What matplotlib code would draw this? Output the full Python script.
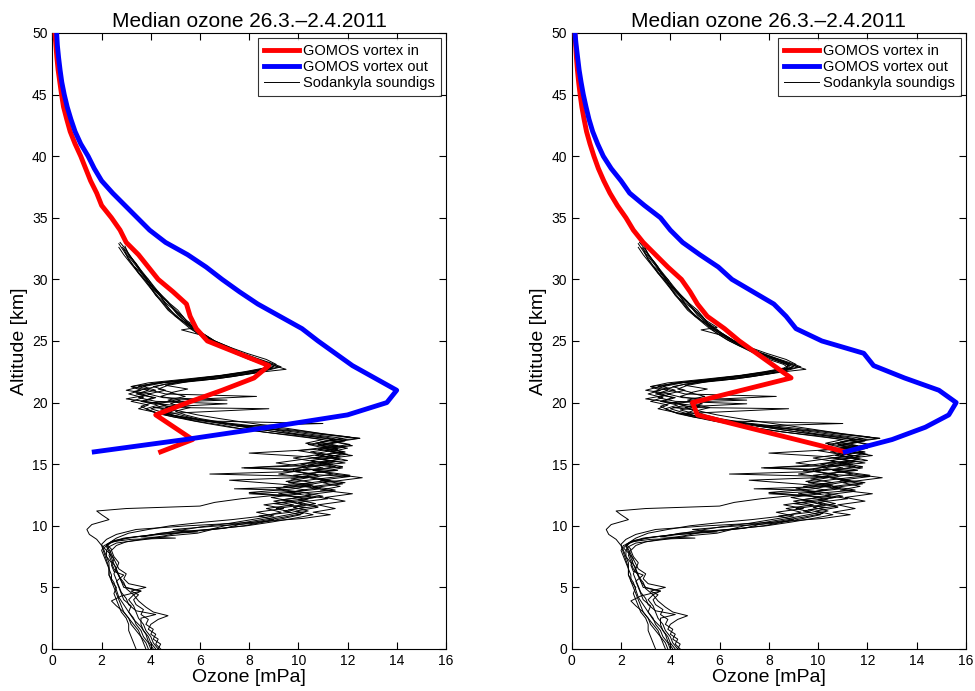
import numpy as np
import matplotlib
matplotlib.use('Agg')
from matplotlib import pyplot as plt

plt.rcParams['font.family'] = ['Liberation Sans', 'DejaVu Sans']

# GOMOS medians, left panel
alt_in_L = [16, 17, 18, 19, 20, 21, 22, 23, 24, 25, 26, 27, 28, 29, 30, 31, 32, 33, 34, 35, 36, 37, 38,
            39, 40, 41, 42, 43, 44, 45, 46, 47, 48, 49, 50]
o3_in_L = [4.4, 5.7, 4.95, 4.2, 5.5, 6.9, 8.2, 8.8, 7.55, 6.3, 5.85, 5.6, 5.45, 4.9, 4.3, 3.9, 3.5, 3.0, 2.75, 2.4, 2.0, 1.8, 1.55,
           1.35, 1.15, 0.92, 0.72, 0.58, 0.45, 0.37, 0.3, 0.23, 0.18, 0.14, 0.1]
alt_out_L = [16, 17, 18, 19, 20, 21, 22, 23, 24, 25, 26, 27, 28, 29, 30, 31, 32, 33, 34, 35, 36, 37, 38,
             39, 40, 41, 42, 43, 44, 45, 46, 47, 48, 49, 50]
o3_out_L = [1.7, 5.4, 8.8, 12.0, 13.6, 14.0, 13.1, 12.2, 11.5, 10.8, 10.15, 9.25, 8.35, 7.6, 6.9, 6.25, 5.5, 4.6, 3.95, 3.45, 2.95, 2.45, 2.0,
            1.7, 1.45, 1.15, 0.92, 0.75, 0.6, 0.48, 0.38, 0.31, 0.25, 0.2, 0.17]

# GOMOS medians, right panel
alt_in_R = [16, 17, 18, 19, 20, 21, 22, 23, 24, 25, 26, 27, 28, 29, 30, 31, 32, 33, 34, 35, 36, 37, 38,
            39, 40, 41, 42, 43, 44, 45, 46, 47, 48, 49, 50]
o3_in_R = [11.1, 9.1, 7.1, 5.1, 4.9, 6.9, 8.9, 8.2, 7.5, 6.8, 6.2, 5.5, 5.1, 4.8, 4.45, 3.9, 3.4, 2.9, 2.5, 2.2, 1.85, 1.55, 1.3,
           1.08, 0.9, 0.74, 0.6, 0.5, 0.41, 0.34, 0.28, 0.23, 0.19, 0.16, 0.13]
alt_out_R = [16, 17, 18, 19, 20, 21, 22, 23, 24, 25, 26, 27, 28, 29, 30, 31, 32, 33, 34, 35, 36, 37, 38,
             39, 40, 41, 42, 43, 44, 45, 46, 47, 48, 49, 50]
o3_out_R = [11.1, 13.0, 14.35, 15.3, 15.6, 14.9, 13.5, 12.25, 11.85, 10.15, 9.1, 8.7, 8.2, 7.35, 6.5, 5.95, 5.2, 4.5, 4.0, 3.6, 2.95, 2.35, 2.0,
            1.6, 1.28, 1.05, 0.85, 0.7, 0.58, 0.47, 0.38, 0.3, 0.24, 0.18, 0.13]

# Sodankyla soundings, (altitude km, ozone mPa)
sond1 = [(0.0,4.1),(0.6,3.9),(1.2,3.8),(1.8,3.6),(2.4,3.3),(3.0,3.1),(3.6,2.9),(4.2,2.7),(4.8,2.6),(5.4,2.5),
         (6.0,2.3),(6.6,2.3),(7.2,2.2),(7.8,2.1),(8.4,2.0),(8.9,1.8),(9.3,1.5),(9.7,1.4),(10.1,1.6),(10.5,2.3),
         (10.9,2.0),(11.2,1.8),(11.4,3.0),(11.6,6.0),(11.9,6.6),(12.2,7.7),(12.5,9.2),(12.9,11.5),(13.2,10.6),(13.5,11.9),
         (13.8,10.8),(14.1,12.1),(14.4,11.0),(14.7,11.8),(15.0,10.4),(15.3,12.0),(15.6,11.3),(15.9,11.9),(16.2,10.8),(16.5,12.2),
         (16.8,11.5),(17.1,12.5),(17.4,11.2),(17.7,10.1),(18.0,8.7),(18.3,7.3),(18.6,6.0),(18.9,5.1),(19.2,4.5),(19.5,4.0),
         (19.8,4.6),(20.1,3.7),(20.4,4.2),(20.7,3.4),(21.0,3.9),(21.3,3.2),(21.6,4.4),(21.9,5.7),(22.2,6.9),(22.5,8.0),
         (22.8,8.9),(23.1,9.1),(23.5,8.7),(24.0,7.9),(24.5,7.2),(25.0,6.6),(25.5,6.2),(26.0,5.8),(26.5,5.5),(27.0,5.3),
         (27.5,5.1),(28.0,4.8),(28.5,4.5),(29.0,4.3),(29.5,4.0),(30.0,3.8),(30.5,3.6),(31.0,3.5),(31.5,3.3),(32.0,3.1),(32.7,2.95)]
sond2 = [(0.0,4.3),(0.4,4.4),(0.8,4.1),(1.2,4.2),(1.6,3.9),(2.0,4.0),(2.4,4.3),(2.7,4.7),(3.0,4.1),(3.4,3.8),
         (3.9,3.5),(4.4,3.3),(4.9,3.0),(5.4,2.9),(5.9,2.7),(6.4,2.6),(6.9,2.5),(7.4,2.4),(7.9,2.3),(8.3,2.2),
         (8.7,2.4),(8.9,3.2),(9.0,5.0),(9.1,3.6),(9.4,4.4),(9.7,6.3),(10.0,7.9),(10.3,8.9),(10.6,9.8),(10.9,10.6),
         (11.2,9.9),(11.5,10.8),(11.8,10.1),(12.1,9.3),(12.4,10.5),(12.7,9.6),(13.0,10.9),(13.3,9.8),(13.7,7.2),(13.9,9.9),
         (14.2,10.7),(14.5,9.4),(14.8,10.3),(15.1,9.1),(15.4,10.2),(15.7,11.4),(16.0,10.5),(16.3,11.6),(16.6,10.8),(16.9,11.9),
         (17.2,11.1),(17.5,9.8),(17.8,9.0),(18.1,7.5),(18.3,11.0),(18.5,6.4),(18.8,5.3),(19.1,4.6),(19.4,5.0),(19.6,4.1),
         (19.9,7.1),(20.1,4.2),(20.4,3.5),(20.7,4.0),(21.0,3.0),(21.3,3.6),(21.6,4.3),(21.9,6.6),(22.2,7.6),(22.5,8.6),
         (22.7,9.5),(23.0,9.0),(23.4,8.5),(23.8,7.9),(24.3,7.3),(24.8,6.7),(25.3,6.3),(25.9,5.8),(26.4,5.5),(27.0,5.2),
         (27.6,4.9),(28.2,4.7),(28.8,4.4),(29.4,4.1),(30.0,3.9),(30.6,3.6),(31.2,3.4),(31.8,3.2),(32.4,3.0),(33.0,2.75)]
sond3 = [(0.0,3.9),(0.5,3.8),(1.0,3.6),(1.5,3.5),(2.0,3.3),(2.5,3.1),(3.0,2.9),(3.5,2.6),(3.9,2.4),(4.3,2.8),
         (4.7,3.6),(5.0,3.0),(5.5,2.8),(6.0,2.7),(6.5,2.5),(7.0,2.4),(7.5,2.2),(8.0,2.1),(8.5,2.0),(8.9,2.2),
         (9.3,2.6),(9.7,3.4),(10.0,5.5),(10.3,8.3),(10.6,10.2),(10.9,11.3),(11.1,10.6),(11.4,11.5),(11.7,10.8),(12.0,11.9),
         (12.3,11.1),(12.6,12.2),(12.9,10.9),(13.2,11.7),(13.5,11.0),(13.9,12.6),(14.2,11.4),(14.5,10.6),(14.8,11.8),(15.1,10.9),
         (15.4,11.6),(15.7,10.7),(16.0,11.8),(16.3,11.0),(16.6,12.1),(16.9,11.3),(17.1,12.5),(17.4,11.0),(17.7,9.8),(17.9,8.6),
         (18.2,7.4),(18.5,6.1),(18.8,5.0),(19.1,4.3),(19.4,3.9),(19.7,3.6),(20.0,4.1),(20.3,3.0),(20.6,3.8),(20.9,3.3),
         (21.2,4.0),(21.5,4.6),(21.8,6.1),(22.1,7.3),(22.4,8.2),(22.8,8.9),(23.1,8.7),(23.5,8.2),(24.0,7.6),(24.5,7.0),
         (25.0,6.5),(25.5,6.1),(26.0,5.7),(26.5,5.4),(27.0,5.0),(27.5,4.8),(28.0,4.6),(28.6,4.4),(29.2,4.1),(29.8,3.9),
         (30.4,3.7),(31.0,3.35)]
sond4 = [(0.0,3.4),(0.5,3.3),(1.0,3.2),(1.5,3.1),(2.0,3.1),(2.5,3.0),(3.0,2.8),(3.5,2.7),(4.0,2.6),(4.5,2.5),
         (5.0,2.6),(5.5,2.4),(6.0,2.4),(6.5,2.3),(7.0,2.3),(7.5,2.2),(8.0,2.2),(8.3,2.3),(8.6,2.6),(8.9,3.8),
         (9.2,4.8),(9.4,5.9),(9.7,6.5),(10.0,7.8),(10.3,8.6),(10.6,9.4),(10.9,10.1),(11.2,9.4),(11.5,10.3),(11.8,9.0),
         (12.1,10.4),(12.4,9.7),(12.7,8.0),(13.0,9.8),(13.3,10.6),(13.6,9.5),(13.9,10.4),(14.2,9.2),(14.5,10.1),(14.7,7.8),
         (14.9,9.6),(15.2,10.7),(15.5,9.8),(15.8,10.9),(16.1,10.0),(16.4,11.2),(16.7,10.3),(17.0,11.0),(17.3,10.0),(17.6,8.6),
         (17.9,7.6),(18.2,6.8),(18.5,5.8),(18.8,5.2),(19.1,4.5),(19.5,8.8),(19.6,4.9),(19.9,4.3),(20.2,5.0),(20.5,8.3),
         (20.7,4.6),(21.0,4.0),(21.3,3.5),(21.6,4.2),(21.9,5.6),(22.2,6.9),(22.5,7.9),(22.8,8.7),(23.1,8.8),(23.4,8.4),
         (23.9,7.8),(24.4,7.1),(24.9,6.6),(25.4,6.2),(25.9,5.25),(26.1,5.9),(26.6,5.5),(27.1,5.2),(27.7,4.9),(28.3,4.6),
         (28.9,4.3),(29.5,4.0),(30.1,3.8),(30.7,3.6),(31.3,3.4),(31.9,3.15),(32.5,2.9)]
sond5 = [(0.0,4.4),(0.4,4.2),(0.8,4.3),(1.2,4.0),(1.6,4.1),(2.0,3.8),(2.4,3.9),(2.8,3.6),(3.2,3.7),(3.6,3.4),
         (4.0,3.3),(4.4,3.5),(4.7,3.2),(5.0,3.8),(5.3,3.1),(5.7,2.9),(6.1,3.0),(6.5,2.7),(6.9,2.6),(7.3,2.5),
         (7.7,2.4),(8.1,2.3),(8.4,2.2),(8.7,2.4),(9.0,2.9),(9.3,4.2),(9.5,5.9),(9.7,4.9),(10.0,6.8),(10.2,8.2),
         (10.5,9.0),(10.8,8.4),(11.1,9.7),(11.4,9.1),(11.7,10.2),(12.0,9.5),(12.3,10.7),(12.6,8.0),(12.8,9.9),(13.1,10.8),
         (13.4,10.1),(13.7,11.3),(14.0,10.4),(14.2,6.4),(14.4,9.8),(14.6,9.8),(14.9,10.7),(15.2,11.5),(15.5,10.6),(15.8,12.0),
         (16.1,11.1),(16.4,11.9),(16.7,10.7),(17.0,11.4),(17.3,10.3),(17.6,9.2),(17.9,8.2),(18.2,7.1),(18.5,6.3),(18.8,5.6),
         (19.1,5.0),(19.4,4.4),(19.7,5.2),(20.0,4.0),(20.2,7.1),(20.4,4.5),(20.7,3.9),(21.0,4.6),(21.3,4.1),(21.6,4.9),
         (21.9,6.3),(22.2,7.5),(22.5,8.4),(22.9,9.2),(23.2,8.8),(23.6,8.2),(24.1,7.5),(24.6,6.9),(25.1,6.4),(25.6,6.0),
         (26.1,5.7),(26.6,5.3),(27.1,5.0),(27.6,4.7),(28.1,4.5),(28.7,4.2),(29.3,4.0),(29.9,3.8),(30.5,3.5),(31.1,3.3),
         (31.7,3.1),(32.3,2.9),(32.9,2.7)]
sond6 = [(0.0,4.0),(0.5,3.9),(1.0,3.7),(1.5,3.6),(2.0,3.4),(2.5,3.3),(3.0,3.1),(3.5,3.2),(4.0,2.9),(4.5,2.8),
         (5.0,2.7),(5.5,2.6),(6.0,2.9),(6.3,2.5),(6.8,2.4),(7.3,2.5),(7.8,2.3),(8.2,2.1),(8.6,2.3),(9.0,2.6),
         (9.4,3.1),(9.7,3.9),(10.0,4.8),(10.3,6.2),(10.5,7.3),(10.8,8.6),(11.1,9.3),(11.4,8.7),(11.7,9.8),(12.0,9.0),
         (12.3,10.0),(12.6,9.2),(12.9,10.3),(13.2,9.4),(13.5,10.6),(13.8,9.7),(14.1,10.8),(14.4,9.9),(14.7,11.0),(15.0,10.1),
         (15.3,11.3),(15.6,10.4),(15.9,8.0),(16.2,10.7),(16.5,11.6),(16.8,10.9),(17.1,11.8),(17.4,10.6),(17.7,9.5),(18.0,8.3),
         (18.3,7.1),(18.6,6.0),(18.9,5.1),(19.2,4.2),(19.5,3.5),(19.8,3.9),(20.1,3.2),(20.4,3.7),(20.7,3.1),(21.0,3.6),
         (21.3,3.2),(21.6,3.9),(21.9,5.4),(22.2,6.8),(22.5,7.8),(22.8,8.6),(23.1,8.9),(23.5,8.4),(24.0,7.7),(24.5,7.2),
         (25.0,6.6),(25.5,6.2),(26.0,5.8),(26.5,5.5),(27.0,5.3),(27.5,5.0),(28.0,4.75),(28.5,4.5),(29.0,4.3),(29.5,4.1),
         (30.0,3.9),(30.5,3.7),(31.0,3.5),(31.5,3.3),(32.0,3.1)]
sond7 = [(0.0,4.2),(0.5,4.0),(1.0,3.9),(1.5,3.7),(2.0,3.6),(2.5,3.6),(2.8,4.2),(3.1,3.4),(3.6,3.1),(4.1,3.0),
         (4.6,2.8),(5.1,2.7),(5.6,2.6),(6.1,2.5),(6.6,2.6),(7.1,2.4),(7.6,2.3),(8.1,2.4),(8.5,2.2),(8.8,2.5),
         (9.1,3.4),(9.3,4.4),(9.5,5.5),(9.8,7.0),(10.1,7.6),(10.4,8.5),(10.7,9.4),(11.0,10.2),(11.3,9.6),(11.6,10.8),
         (11.9,10.0),(12.2,11.2),(12.5,10.3),(12.8,11.5),(13.1,10.6),(13.4,11.8),(13.7,10.9),(14.0,12.1),(14.2,10.2),(14.5,11.6),
         (14.7,7.7),(14.9,10.7),(15.1,11.9),(15.4,10.9),(15.7,12.2),(16.0,11.3),(16.3,12.0),(16.6,11.0),(16.9,11.9),(17.2,10.8),
         (17.5,9.6),(17.8,8.5),(18.1,7.6),(18.4,6.9),(18.7,6.0),(19.0,5.4),(19.3,5.0),(19.6,5.6),(19.9,4.8),(20.2,5.2),
         (20.5,4.4),(20.8,4.9),(21.1,4.3),(21.4,4.7),(21.7,5.5),(22.0,6.7),(22.3,7.7),(22.6,8.7),(22.9,9.3),(23.2,8.9),
         (23.6,8.3),(24.1,7.6),(24.6,7.0),(25.1,6.5),(25.6,6.1),(26.1,5.8),(26.6,5.4),(27.1,5.1),(27.6,4.9),(28.1,4.6),
         (28.6,4.4),(29.1,4.2),(29.6,4.0),(30.1,3.8),(30.6,3.6),(31.1,3.4),(31.6,3.2),(32.1,3.0),(32.6,2.85)]
sond8 = [(0.0,4.3),(0.5,4.1),(1.0,4.0),(1.5,3.8),(2.0,3.7),(2.5,3.5),(3.0,3.4),(3.5,3.3),(4.0,3.1),(4.4,3.3),
         (4.7,3.6),(5.0,2.9),(5.5,2.8),(6.0,2.7),(6.5,2.6),(7.0,2.7),(7.5,2.5),(8.0,2.4),(8.4,2.6),(8.7,3.0),
         (9.0,3.9),(9.2,4.6),(9.5,5.3),(9.7,6.4),(10.0,7.0),(10.3,7.9),(10.6,8.8),(10.9,9.6),(11.2,10.4),(11.5,9.8),
         (11.8,10.7),(12.1,10.0),(12.4,11.0),(12.7,10.2),(13.0,9.1),(13.3,10.3),(13.6,11.2),(13.9,10.5),(14.2,11.4),(14.5,10.6),
         (14.8,11.5),(15.1,10.8),(15.4,11.7),(15.7,10.9),(16.0,11.9),(16.3,11.1),(16.6,10.4),(16.9,11.3),(17.2,12.1),(17.5,10.9),
         (17.8,9.9),(18.1,8.9),(18.4,7.8),(18.7,6.8),(19.0,5.9),(19.3,5.2),(19.6,4.6),(19.9,5.3),(20.2,4.7),(20.5,5.4),
         (20.8,4.8),(21.1,5.5),(21.4,4.6),(21.7,5.2),(22.0,6.4),(22.3,7.5),(22.6,8.4),(22.9,9.0),(23.2,8.6),(23.6,8.0),
         (24.1,7.4),(24.6,6.8),(25.1,6.3),(25.6,5.9),(26.1,5.6),(26.6,5.3),(27.1,5.0),(27.6,4.75),(28.1,4.55),(28.6,4.3),
         (29.1,4.1),(29.6,3.9),(30.1,3.7),(30.6,3.5),(31.1,3.3),(31.6,3.1),(32.2,2.95)]
sond9 = [(0.0,3.8),(0.5,3.7),(1.0,3.6),(1.5,3.4),(2.0,3.2),(2.5,3.1),(3.0,2.9),(3.5,2.8),(4.0,2.7),(4.5,2.6),
         (5.0,2.5),(5.5,2.4),(6.0,2.3),(6.5,2.3),(7.0,2.2),(7.5,2.1),(8.0,2.0),(8.4,2.1),(8.7,2.5),(9.0,3.0),
         (9.3,4.2),(9.6,5.1),(9.9,6.0),(10.2,7.2),(10.5,8.1),(10.8,9.0),(11.1,8.3),(11.4,9.4),(11.7,8.6),(12.0,9.7),
         (12.3,8.9),(12.6,10.1),(12.9,9.3),(13.0,7.4),(13.2,10.5),(13.5,9.6),(13.8,10.8),(14.1,9.8),(14.4,11.1),(14.7,10.2),
         (15.0,11.4),(15.3,10.5),(15.6,11.7),(15.9,10.8),(16.2,11.6),(16.5,10.9),(16.8,11.7),(17.1,10.6),(17.4,9.4),(17.7,8.3),
         (18.0,7.2),(18.3,6.3),(18.6,5.5),(18.9,4.8),(19.2,4.2),(19.5,3.8),(19.8,4.3),(20.1,3.6),(20.4,4.1),(20.7,3.5),
         (21.0,4.2),(21.3,3.7),(21.6,4.5),(21.9,5.9),(22.2,7.1),(22.5,8.1),(22.8,8.8),(23.1,8.6),(23.5,8.0),(24.0,7.4),
         (24.5,6.9),(25.0,6.4),(25.5,6.0),(26.0,5.6),(26.5,5.3),(27.0,5.0),(27.5,4.7),(28.0,4.5),(28.5,4.3),(29.0,4.1),
         (29.5,3.9),(30.0,3.7),(30.5,3.5),(31.0,3.3),(31.5,3.1),(32.0,2.9),(32.6,2.7)]
soundings = [sond1, sond2, sond3, sond4, sond5, sond6, sond7, sond8, sond9]

title = 'Median ozone 26.3.\u20132.4.2011'

fig = plt.figure(figsize=(9.75, 6.91), dpi=100)
ax1 = fig.add_axes([0.0538, 0.0608, 0.4035, 0.8915])
ax2 = fig.add_axes([0.5864, 0.0608, 0.4044, 0.8915])

panels = [(ax1, alt_in_L, o3_in_L, alt_out_L, o3_out_L),
          (ax2, alt_in_R, o3_in_R, alt_out_R, o3_out_R)]

for ax, a_in, x_in, a_out, x_out in panels:
    for s in soundings:
        s = np.array(s)
        hs, = ax.plot(s[:, 1], s[:, 0], color='k', lw=0.7, zorder=2)
    hr, = ax.plot(x_in, a_in, color='#ff0000', lw=3.5, zorder=3)
    hb, = ax.plot(x_out, a_out, color='#0000ff', lw=3.5, zorder=3)

    ax.set_xlim(0, 16)
    ax.set_ylim(0, 50)
    ax.set_xticks(np.arange(0, 17, 2))
    ax.set_yticks(np.arange(0, 51, 5))
    ax.tick_params(direction='in', top=True, right=True, length=5, width=0.8, labelsize=10)
    for sp in ax.spines.values():
        sp.set_linewidth(0.8)
    ax.set_title(title, fontsize=15, pad=4)
    ax.set_xlabel('Ozone [mPa]', fontsize=14, labelpad=1)
    ax.set_ylabel('Altitude [km]', fontsize=14, labelpad=3)
    leg = ax.legend([hr, hb, hs], ['GOMOS vortex in', 'GOMOS vortex out', 'Sodankyla soundigs'],
                    loc='upper right', fontsize=10.5, frameon=True, fancybox=False,
                    borderaxespad=0.35, handlelength=2.4, borderpad=0.4, labelspacing=0.15,
                    handletextpad=0.3)
    leg.get_frame().set_edgecolor('k')
    leg.get_frame().set_linewidth(0.8)

fig.savefig('out.png', dpi=100)
